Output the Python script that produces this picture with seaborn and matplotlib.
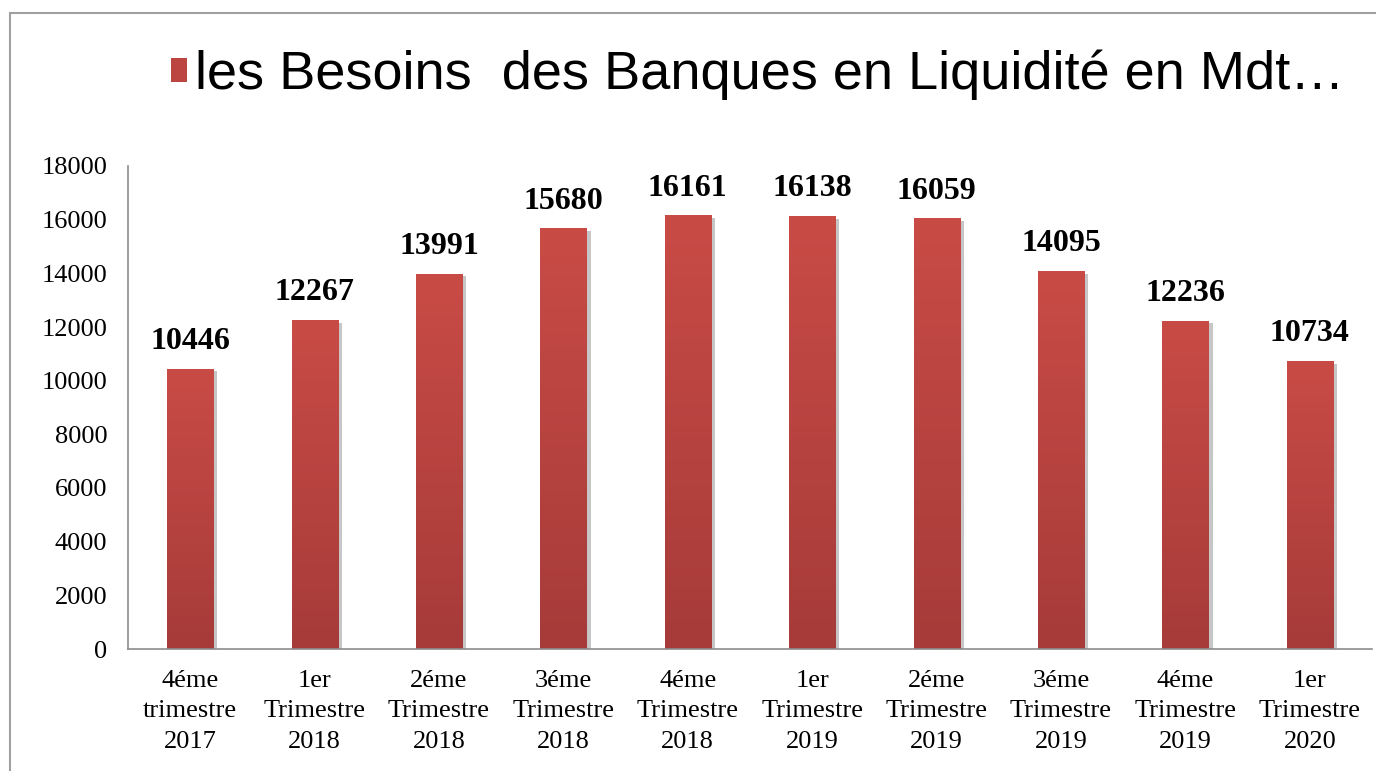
import matplotlib
matplotlib.use("Agg")
import matplotlib.pyplot as plt
import matplotlib.patheffects as pe
from matplotlib.colors import LinearSegmentedColormap
from matplotlib.lines import Line2D
from matplotlib.patches import Rectangle
import numpy as np
import pandas as pd
import seaborn as sns

# data
periods = [
    "4éme\ntrimestre\n2017",
    "1er\nTrimestre\n2018",
    "2éme\nTrimestre\n2018",
    "3éme\nTrimestre\n2018",
    "4éme\nTrimestre\n2018",
    "1er\nTrimestre\n2019",
    "2éme\nTrimestre\n2019",
    "3éme\nTrimestre\n2019",
    "4éme\nTrimestre\n2019",
    "1er\nTrimestre\n2020",
]
besoins = [10446, 12267, 13991, 15680, 16161, 16138, 16059, 14095, 12236, 10734]
y_ticks = [0, 2000, 4000, 6000, 8000, 10000, 12000, 14000, 16000, 18000]
legend_label = "les Besoins  des Banques en Liquidité en Mdt…"

BAR_COLOR = "#BC4541"
BAR_TOP = "#C94B46"
BAR_BOTTOM = "#A63B39"
SPINE_COLOR = "#8C8C8C"

sns.set_theme(style="white")
plt.rcParams["font.family"] = ["Liberation Serif", "DejaVu Serif"]

df = pd.DataFrame({"period": periods, "value": besoins})

fig = plt.figure(figsize=(13.76, 7.71), dpi=100)
ax = fig.add_axes([128 / 1376, 1 - 649 / 771, (1372 - 128) / 1376, (649 - 166) / 771])

sns.barplot(
    data=df,
    x="period",
    y="value",
    color=BAR_COLOR,
    width=0.37,
    saturation=1,
    ax=ax,
)

ax.set_ylim(0, 18000)
ax.set_xlim(-0.5, len(periods) - 0.5)

# soft drop shadow plus a vertical gradient fill on each bar
grad_cmap = LinearSegmentedColormap.from_list("bar", [BAR_BOTTOM, BAR_TOP])
gradient = np.linspace(0, 1, 256).reshape(-1, 1)
for patch in list(ax.patches):
    patch.set_edgecolor("none")
    patch.set_path_effects([
        pe.SimplePatchShadow(offset=(3, -2), shadow_rgbFace="#444444", alpha=0.3),
        pe.Normal(),
    ])
    x0, y0 = patch.get_x(), patch.get_y()
    w, h = patch.get_width(), patch.get_height()
    img = ax.imshow(
        gradient,
        cmap=grad_cmap,
        extent=(x0, x0 + w, y0, y0 + h),
        origin="lower",
        aspect="auto",
        zorder=patch.get_zorder() + 0.1,
    )
    img.set_clip_path(patch)

ax.set_xlim(-0.5, len(periods) - 0.5)
ax.set_ylim(0, 18000)

for xpos, val in enumerate(besoins):
    ax.annotate(
        f"{val}",
        xy=(xpos, val),
        xytext=(0, 9),
        textcoords="offset points",
        ha="center",
        va="bottom",
        fontsize=23,
        fontweight="bold",
        color="black",
        zorder=5,
    )

ax.set_yticks(y_ticks)
ax.set_yticklabels([str(t) for t in y_ticks])
ax.set_xlabel("")
ax.set_ylabel("")
ax.tick_params(axis="y", length=0, pad=15, labelsize=19, colors="black")
ax.tick_params(axis="x", length=0, pad=15, labelsize=19, colors="black")
for label in ax.get_xticklabels():
    label.set_linespacing(1.5)

for side in ["top", "right"]:
    ax.spines[side].set_visible(False)
for side in ["left", "bottom"]:
    ax.spines[side].set_color(SPINE_COLOR)
    ax.spines[side].set_linewidth(1.2)

# legend at the top, drawn as a single-entry legend
handle = Rectangle((0, 0), 1, 1, facecolor=BAR_COLOR, edgecolor="none")
leg = fig.legend(
    [handle],
    [legend_label],
    loc="center left",
    bbox_to_anchor=(122 / 1376, 1 - 75 / 771),
    frameon=False,
    prop={"family": ["Liberation Sans", "DejaVu Sans"], "size": 39},
    handlelength=0.3,
    handleheight=0.3,
    handletextpad=0.15,
)
for txt in leg.get_texts():
    txt.set_color("black")

# slide frame lines
fig.add_artist(Line2D([10 / 1376, 1.0], [1 - 13 / 771, 1 - 13 / 771],
                      color="#A0A0A0", linewidth=1.5, transform=fig.transFigure))
fig.add_artist(Line2D([10 / 1376, 10 / 1376], [0.0, 1 - 13 / 771],
                      color="#A0A0A0", linewidth=1.5, transform=fig.transFigure))

fig.savefig("out.png", dpi=100)
